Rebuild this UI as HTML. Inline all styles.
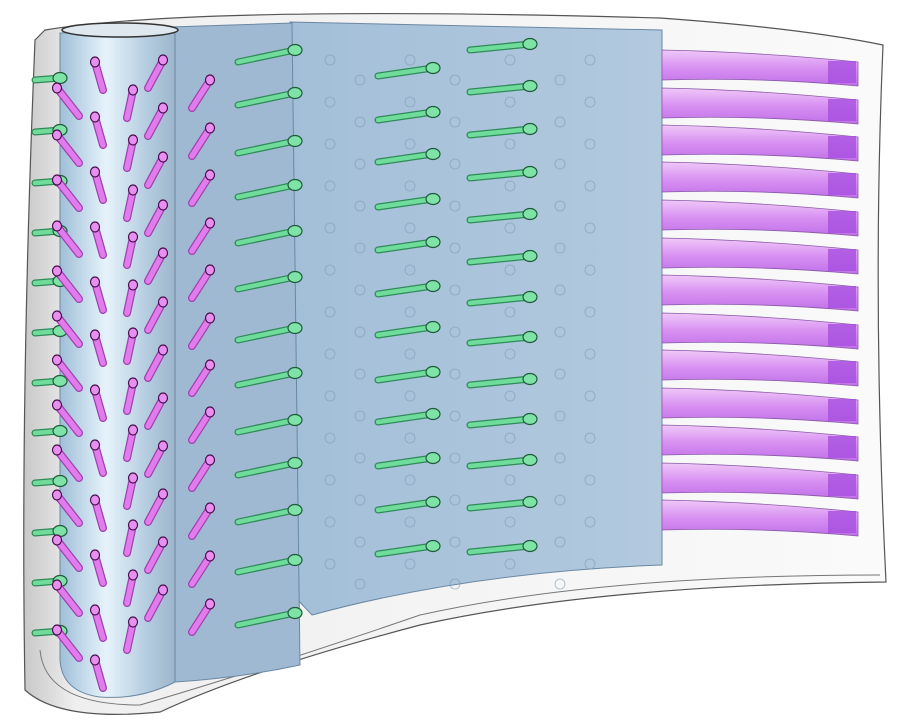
<!DOCTYPE html>
<html><head><meta charset="utf-8"><style>body{margin:0;background:#fff}svg{display:block}</style></head>
<body>
<svg width="899" height="721" viewBox="0 0 899 721">
<defs>
<linearGradient id="cyl" x1="0" x2="1"><stop offset="0" stop-color="#9fbfd8"/><stop offset="0.4" stop-color="#e6f3fb"/><stop offset="0.75" stop-color="#b5cde0"/><stop offset="1" stop-color="#9db6cc"/></linearGradient>
<linearGradient id="pan" x1="0" x2="1"><stop offset="0" stop-color="#a3bfd8"/><stop offset="1" stop-color="#b2c9de"/></linearGradient>
<linearGradient id="shell" x1="0" x2="1"><stop offset="0" stop-color="#c8c8c8"/><stop offset="0.06" stop-color="#efefef"/><stop offset="1" stop-color="#fafafa"/></linearGradient>
<linearGradient id="slot" x1="0" x2="0" y1="0" y2="1"><stop offset="0" stop-color="#f0c8f8"/><stop offset="0.5" stop-color="#d890f2"/><stop offset="1" stop-color="#c070e8"/></linearGradient>
</defs>
<path d="M45,30 Q200,5 660,18 Q800,28 883,45 Q872,300 886,582 Q600,585 420,625 Q250,670 160,712 Q60,722 25,690 Q20,400 35,40 Z" fill="url(#shell)" stroke="#555" stroke-width="1.2"/>
<path d="M40,650 Q45,705 140,705 Q260,670 420,615 Q600,575 880,575" fill="none" stroke="#777" stroke-width="1"/>
<path d="M290,22 L662,30 L662,565 Q470,572 312,615 L296,598 Z" fill="url(#pan)" stroke="#6a88a3" stroke-width="1"/>
<path d="M170,27 L292,23 L300,665 Q240,678 175,682 Z" fill="#9fb9d2" stroke="#6a88a3" stroke-width="1"/>
<path d="M60,33 L175,30 L175,682 Q140,700 100,697 Q62,692 60,660 Z" fill="url(#cyl)" stroke="#6a88a3" stroke-width="1"/>
<ellipse cx="120" cy="30" rx="58" ry="7" fill="#dfe8ef" stroke="#333" stroke-width="1.5"/>
<g id="slots"></g>
<g id="holes"></g>
<g id="green"></g>
<g id="mag"></g>
</svg>
<script>
const slotY=[50,88,125,162,200,238,275,313,350,388,425,463,500];
const greenCols=[
 {x1:238,dx:57,dy:-12,ys:[62,105,153,197,243,289,340,385,432,475,522,572,625]},
 {x1:378,dx:55,dy:-8,ys:[76,120,162,207,250,294,335,380,422,466,510,554]},
 {x1:470,dx:60,dy:-6,ys:[50,92,135,178,220,262,303,343,385,425,466,508,552]},
 {x1:35,dx:25,dy:-2,ys:[80,132,183,233,283,333,383,433,483,533,583,633]}];
const magCols=[
 {x:57,dx:22,ys:[88,135,180,226,271,316,360,405,450,495,540,585,630]},
 {x:95,dx:8,ys:[62,117,172,227,282,335,390,445,500,555,610,660]},
 {x:133,dx:-6,ys:[90,140,190,237,285,333,383,430,478,525,575,622]},
 {x:163,dx:-15,ys:[60,108,157,205,253,302,350,398,446,494,542,590]},
 {x:210,dx:-18,ys:[80,128,175,223,270,318,365,412,460,508,556,604]}];
const NS='http://www.w3.org/2000/svg';
function mk(t,a,p){const e=document.createElementNS(NS,t);for(const k in a)e.setAttribute(k,a[k]);p.appendChild(e);return e;}
const sg=document.getElementById('slots');
slotY.forEach(y=>{
 const s=mk('path',{d:`M662,${y} Q760,${y+2} 858,${y+12} L858,${y+36} Q760,${y+27} 662,${y+30} Z`,fill:'url(#slot)',stroke:'#8a5aa8','stroke-width':0.8},sg);
 
 
 const d=mk('rect',{x:828,y:y+11,width:28,height:22,fill:'#a64fe0',opacity:0.8},sg);
 
 
});
const hg=document.getElementById('holes');
[330,360,410,455,510,560,590].forEach((x,i)=>{for(let y=60+(i%2)*20;y<590;y+=42){mk('circle',{cx:x,cy:y,r:5,fill:'none',stroke:'#7f9ab3','stroke-width':0.8,opacity:0.7},hg);}});
const gg=document.getElementById('green');
greenCols.forEach(c=>c.ys.forEach(y=>{
 const g=mk('g',{},gg);
 
 
 mk('line',{x1:c.x1,y1:y,x2:c.x1+c.dx,y2:y+c.dy,stroke:'#2f8a58','stroke-width':7,'stroke-linecap':'round'},g);
 mk('line',{x1:c.x1,y1:y,x2:c.x1+c.dx,y2:y+c.dy,stroke:'#6fdc9c','stroke-width':4.5,'stroke-linecap':'round'},g);
 mk('ellipse',{cx:c.x1+c.dx,cy:y+c.dy,rx:7,ry:5.5,fill:'#7fe3a8',stroke:'#1f5a3a','stroke-width':1.2},g);
}));
const mg=document.getElementById('mag');
magCols.forEach(c=>c.ys.forEach(y=>{
 const g=mk('g',{},mg);
 
 
 mk('line',{x1:c.x,y1:y,x2:c.x+c.dx,y2:y+28,stroke:'#a040b0','stroke-width':8,'stroke-linecap':'round'},g);
 mk('line',{x1:c.x,y1:y,x2:c.x+c.dx,y2:y+28,stroke:'#e27cec','stroke-width':5.5,'stroke-linecap':'round'},g);
 mk('ellipse',{cx:c.x,cy:y,rx:4.5,ry:5,fill:'#e890f0',stroke:'#4a1050','stroke-width':1.2},g);
}));
</script>
</body></html>
